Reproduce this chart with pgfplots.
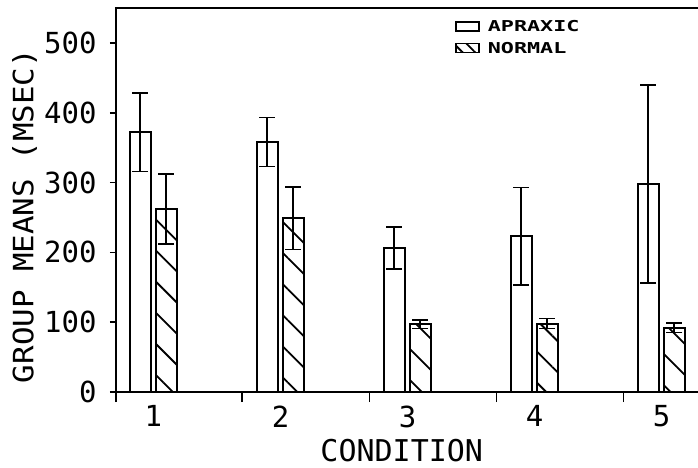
\documentclass[border=0pt]{standalone}
\usepackage{fontspec}
\setmainfont{DejaVu Sans Mono}
\newfontfamily\legfont[FakeStretch=1.45]{DejaVu Sans Mono Bold}
\newfontfamily\ylabfont[FakeStretch=1.1]{DejaVu Sans Mono}
\usepackage{pgfplots}
\pgfplotsset{compat=1.18}
\usetikzlibrary{patterns.meta}

\begin{document}
\begin{tikzpicture}
\begin{axis}[
  scale only axis, width=582pt, height=384pt,
  xmin=0.705, xmax=5.287, ymin=0, ymax=550,
  axis lines=left, axis line style={-, line width=2.4pt},
  tick align=outside,
  ytick={0,100,200,300,400,500},
  major tick length=6pt,
  ytick style={line width=1.6pt, black},
  xtick={1,2,3,4,5},
  major x tick style={draw=none},
  minor xtick={0.705,1.7,2.7,3.7,4.7},
  minor tick length=10pt,
  minor x tick style={line width=1.8pt, black},
  /pgf/number format/assume math mode=true,
  ticklabel style={font=\fontsize{29}{29}\selectfont},
  yticklabel style={xshift=-10pt},
  xticklabel style={yshift=-4pt},
  xlabel={CONDITION},
  ylabel={GROUP MEANS (MSEC)},
  xlabel style={font=\fontsize{30}{30}\selectfont, at={(axis description cs:0.491,-0.182)}, anchor=base},
  ylabel style={font=\ylabfont\fontsize{28}{28}\selectfont, at={(axis description cs:-0.142,0.458)}, anchor=base},
  legend style={draw=none, fill=none, at={(axis description cs:0.577,0.978)}, anchor=north west,
    font=\legfont\fontsize{15}{15}\selectfont, row sep=5pt, column sep=6pt, cells={anchor=west}},
  clip=false,
]
\addplot[ybar, bar width=0.165, bar shift=0, draw=black, line width=2pt, fill=white,
  legend image code/.code={\draw[line width=1.8pt] (0pt,-4pt) rectangle (23pt,5pt);},
  error bars/.cd, y dir=both, y explicit,
  error bar style={line width=1.6pt},
  error mark options={rotate=90, mark size=8pt, line width=1.6pt}]
  coordinates {
    (0.895,372) +- (0,56)
    (1.895,358) +- (0,35)
    (2.895,206) +- (0,30)
    (3.895,223) +- (0,70)
    (4.895,298) +- (0,142)
  };
\addlegendentry{APRAXIC}
\addplot[ybar, bar width=0.165, bar shift=0, draw=black, line width=2pt,
  pattern={Lines[angle=-45,distance=22pt,line width=1.8pt]}, pattern color=black,
  legend image code/.code={\draw[line width=1.8pt, pattern={Lines[angle=-45,distance=9pt,line width=1.8pt]}] (0pt,-4pt) rectangle (23pt,5pt);},
  error bars/.cd, y dir=both, y explicit,
  error bar style={line width=1.6pt},
  error mark options={rotate=90, mark size=8pt, line width=1.6pt}]
  coordinates {
    (1.1,262) +- (0,50)
    (2.1,249) +- (0,45)
    (3.1,97) +- (0,6)
    (4.1,98) +- (0,7)
    (5.1,92) +- (0,7)
  };
\addlegendentry{NORMAL}
\draw[line width=2.4pt] ([xshift=-1.2pt]rel axis cs:0,1) -- (rel axis cs:1,1);
\coordinate (ll) at (rel axis cs:0,0);
\coordinate (ur) at (rel axis cs:1,1);
\end{axis}
\pgfresetboundingbox
\path ([shift={(-116pt,-76pt)}]ll) rectangle ([shift={(0pt,8pt)}]ur);
\end{tikzpicture}
\end{document}
